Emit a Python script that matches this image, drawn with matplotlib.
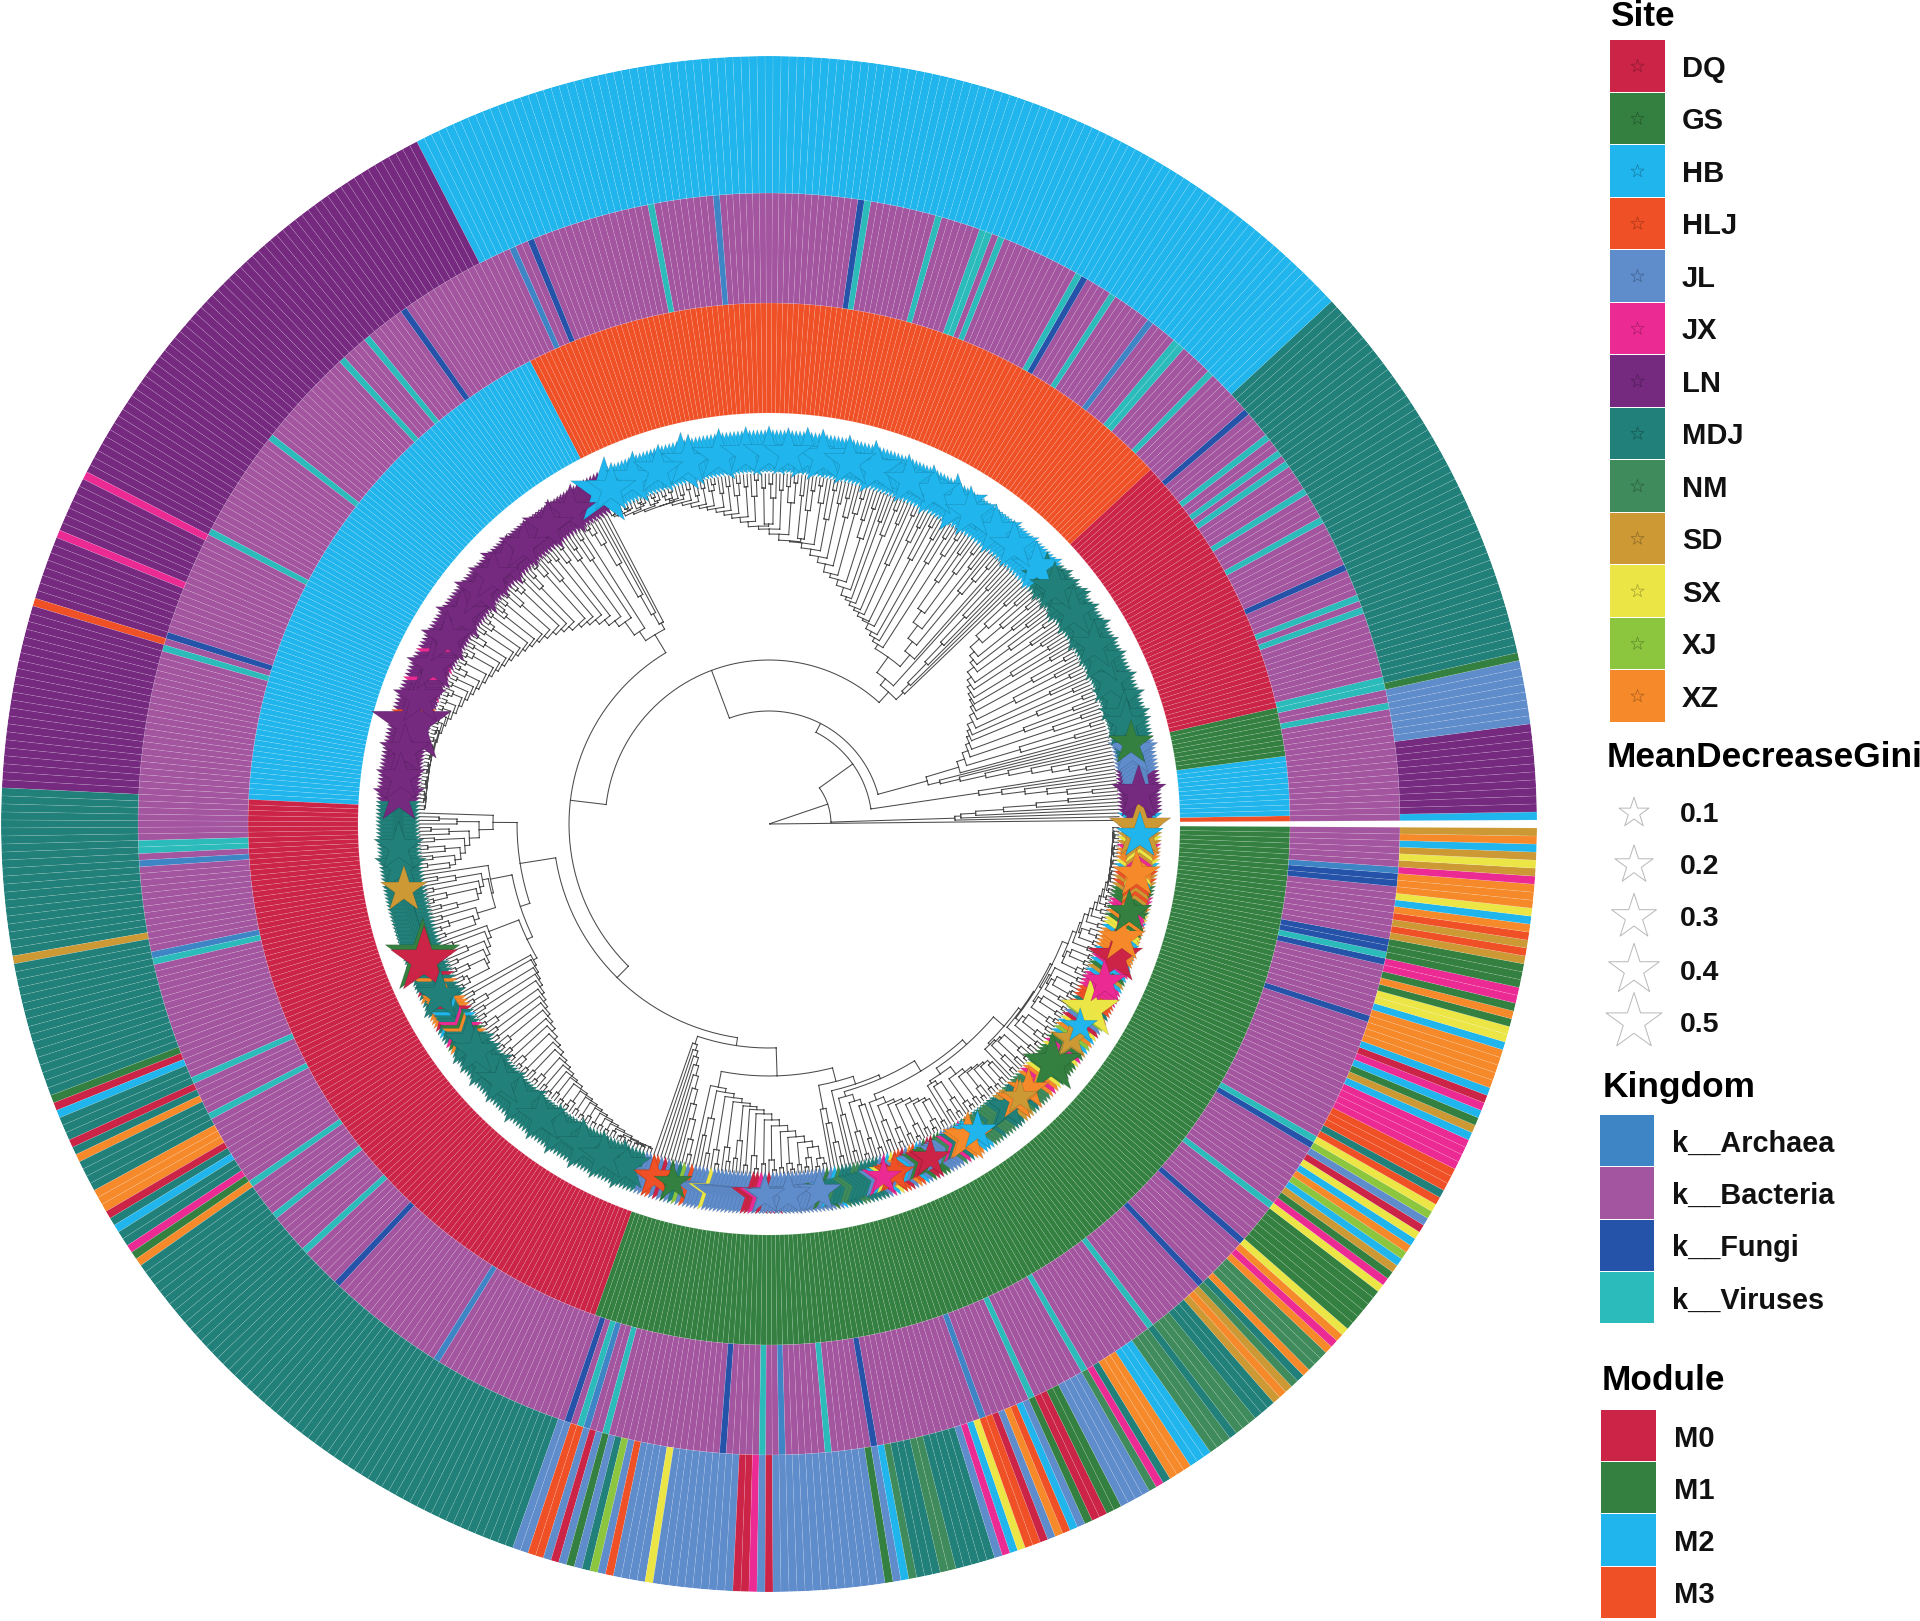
import numpy as np
import matplotlib
matplotlib.use('Agg')
import matplotlib.pyplot as plt
from matplotlib.patches import Rectangle

plt.rcParams['font.family'] = ['Liberation Sans', 'DejaVu Sans']

# legend entries and colours
sites = ['DQ', 'GS', 'HB', 'HLJ', 'JL', 'JX', 'LN', 'MDJ', 'NM', 'SD', 'SX', 'XJ', 'XZ']
site_colors = ['#CB2447', '#348040', '#20B5EC', '#F05026', '#5F8CCB', '#EC2A94', '#752A80',
               '#218079', '#3F8B5C', '#CC9935', '#EBE645', '#8CC63F', '#F68A2B']
kingdoms = ['k__Archaea', 'k__Bacteria', 'k__Fungi', 'k__Viruses']
kingdom_colors = ['#3E85C6', '#A3559F', '#2453A9', '#2BBBBB']
modules = ['M0', 'M1', 'M2', 'M3']
module_colors = ['#CB2447', '#348040', '#20B5EC', '#F05026']
gini_levels = [0.1, 0.2, 0.3, 0.4, 0.5]

# inner ring, runs of leaves counted anticlockwise from 3 o'clock
module_runs = ['M3', 'M2', 'M1', 'M0', 'M3', 'M2', 'M0', 'M1']
module_counts = [1, 11, 9, 50, 124, 100, 122, 182]

# middle ring
kingdom_runs = ('B17 V1 B2 V2 B10 V1 B1 V1 B4 F1 B7 V1 B4 V1 B4 V1 B1 V1 B2 V1 B4 F1 B7 V1 B5 V2 B4 A1 B6 V1 '
                'B4 F1 V1 B12 V1 B1 V2 B6 V1 B10 V1 F1 B21 A1 B9 V1 B18 F1 B2 A1 B18 F1 B6 V1 B4 V1 B15 V1 '
                'B16 V1 B16 F1 B1 V1 B29 V2 B1 A1 B13 A1 V1 B18 V1 B5 V1 B11 V1 B5 V1 B6 V1 B6 F1 B18 A1 '
                'B21 F1 B1 V1 A1 B2 V1 B17 F1 B5 V1 B2 A1 B6 V1 B6 F1 B16 A1 B7 V1 B8 V1 B11 V1 B9 F1 B8 '
                'F1 B6 V1 B10 F1 V1 B19 F1 B8 F1 V1 F2 B8 F2 A1 B6').split()

# outer ring
site_runs = ('HB1 LN11 JL8 GS1 MDJ50 HB124 LN59 JX1 LN7 JX1 LN8 HLJ1 LN23 MDJ21 SD1 MDJ17 GS1 DQ1 HB1 MDJ3 DQ1 '
             'MDJ1 XZ1 MDJ4 XZ3 DQ1 MDJ1 HB1 MDJ2 JX1 GS1 XZ1 MDJ59 JL2 HLJ2 JL1 DQ1 JL1 GS1 JL1 MDJ1 XJ1 JL1 '
             'HLJ1 JL4 SX1 JL10 DQ2 JX1 JL1 DQ1 JL14 GS1 JL1 HB1 NM1 MDJ3 NM2 MDJ5 JL1 JX1 HB1 SX1 HLJ2 DQ1 '
             'JL1 XZ1 HLJ1 HB1 JL1 GS1 DQ2 GS2 JL4 NM1 JX1 MDJ1 XZ3 HB3 NM3 MDJ1 NM3 MDJ3 SD1 XZ1 SD1 NM1 MDJ1 '
             'XZ1 NM3 XZ1 JX1 XZ1 SX1 GS6 SX1 JX1 GS1 SD1 HB1 XJ1 XZ1 HB1 SX1 DQ1 JL1 XJ1 SX1 HLJ1 MDJ1 HLJ3 '
             'JX4 HB1 SD1 GS1 HB1 JX1 DQ1 HB1 XZ5 HB1 SX2 GS1 XZ1 GS1 JX2 GS3 SD1 HLJ1 SD1 HLJ1 XZ1 HB1 SX1 '
             'XZ3 JX1 SD1 SX1 SD1 HB1 XZ1 SD1').split()

# star sizes: most leaves sit near the base value, the bigger ones are listed by leaf
gini_base = 0.3
big_leaf = [193, 172, 98, 72, 121, 203, 273, 7, 18, 20, 62, 596, 598, 586, 576, 569, 564, 557, 549, 544,
            540, 532, 523, 520, 519, 516, 506, 503, 492, 482, 479, 462, 454, 448, 424, 419, 335, 334, 316,
            379, 359, 399, 224, 234, 242, 249, 257, 266, 105, 94, 139, 135, 149, 170, 162, 191, 185,
            68, 61, 52, 37, 32, 27,
            345, 362, 366, 372, 386, 392, 405, 411, 305, 310, 25, 43, 47, 57, 65,
            80, 86, 112, 128, 144, 155, 178, 210, 218, 229, 280, 287, 292]
big_gini = [0.74, 0.58, 0.58, 0.40, 0.48, 0.42, 1.08, 0.48, 0.39, 0.30, 0.42, 0.33, 0.62, 0.35, 0.30, 0.35,
            0.48, 0.30, 0.58, 0.16, 0.20, 0.58, 0.25, 0.17, 0.25, 0.30, 0.22, 0.39, 0.22, 0.22, 0.17, 0.30,
            0.30, 0.22, 0.20, 0.25, 0.74, 0.94, 0.33,
            0.45, 0.42, 0.45, 0.45, 0.45, 0.45, 0.45, 0.45, 0.45, 0.42, 0.42, 0.45, 0.45, 0.42, 0.45, 0.45,
            0.38, 0.45, 0.42, 0.45, 0.45, 0.42, 0.45, 0.42,
            0.42, 0.40, 0.45, 0.40, 0.42, 0.45, 0.40, 0.42, 0.38, 0.42, 0.38, 0.40, 0.38, 0.42, 0.40,
            0.38, 0.42, 0.40, 0.42, 0.38, 0.42, 0.38, 0.42, 0.38, 0.40, 0.42, 0.38, 0.42]

# tree: radius at which each leaf merges with the next one
merge_r = [1,
           186, 192, 207, 235, 268, 300, 62,
           325, 300, 280, 258, 235, 212, 103,
           322, 305, 288, 268, 245, 222, 196, 176, 164,
           198, 318, 262, 336, 206, 300, 330, 212, 272, 325, 216, 338, 290, 219, 332, 222, 310,
           228, 335, 275, 322, 233, 300, 338, 236, 326, 238, 285, 330, 241, 326, 245, 318, 250, 338, 298,
           258, 325, 262, 312, 268, 336, 305, 280, 330, 294, 322, 113]
merge_r += [188, 198, 225, 250, 285, 320, 178,
            186, 220, 336, 318, 300, 232, 325, 248, 338, 312, 262, 330, 295, 205, 340, 320, 210, 335, 305,
            214, 328, 218, 338, 300, 224, 332, 315, 226, 340, 285, 230, 326, 233, 338, 310, 237, 322, 240,
            248, 332, 300, 318, 254, 338, 322, 258, 316, 335, 266, 328, 272, 340, 310, 278, 325, 342,
            283, 336, 316, 287, 330, 284, 342, 322, 338, 290, 334, 295, 326, 340, 300, 336, 298, 344, 328,
            303, 338, 308, 342, 330, 312, 340, 316, 334, 320, 344, 338, 323, 342, 326, 336, 330, 344, 333, 340, 336,
            338, 346, 340, 344, 336, 342, 346, 340, 338, 344, 346, 342, 340, 344, 346, 343, 345, 344, 346, 164]
merge_r += [228, 240, 262, 300, 325, 338, 345, 221,
            232, 340, 318, 248, 336, 325, 255, 344, 330, 262, 338, 268, 342, 320, 272, 334, 346, 276, 340, 328,
            281, 345, 285, 338, 344, 289, 330, 346, 293, 342, 296, 340, 335, 299, 346, 302, 344, 338, 305, 342,
            308, 346, 336, 311, 344, 314, 340, 346, 317, 343, 320, 346, 338, 323, 344, 326, 346, 329, 342, 346,
            332, 345, 335, 346, 338, 344, 340, 346, 342, 345, 346, 343, 346, 344, 346, 345,
            345, 346, 344, 346, 345, 346, 344, 345, 346, 345, 344, 346, 345, 346, 344, 345, 200]
merge_r += [276, 330, 312, 290, 338, 320, 300, 335, 305, 342, 325, 310, 338, 316, 344, 322, 252,
            284, 336, 318, 292, 342, 296, 330, 344, 300, 338, 322, 286, 340, 305, 335, 344, 310, 342, 262,
            300, 338, 304, 344, 326, 308, 340, 312, 345, 332, 315, 342, 338, 346, 268,
            272, 340, 274, 344, 330, 276, 338, 278, 342, 281, 346, 334, 284, 340, 287, 344, 290, 336, 346,
            293, 342, 296, 345, 300, 338, 346, 304, 344, 307, 341, 311, 346, 338, 314, 344, 317, 346, 320, 342,
            322, 345, 325, 346, 340, 327, 344, 329, 346, 331, 343, 333, 346, 335, 345, 337, 346, 339, 344,
            341, 346, 345, 343, 346, 344, 346, 345, 346, 344, 345, 216]
merge_r += [232, 238, 244, 252, 262, 275, 290, 305, 325, 340, 224,
            268, 318, 300, 335, 272, 330, 344, 276, 326, 340, 280, 336, 318, 283, 342, 286, 332, 345, 290, 340,
            296, 336, 346, 302, 344, 308, 340, 346, 314, 342, 320, 345, 336, 326, 346, 338, 344, 252]
merge_r += [290, 305, 325, 340, 266,
            274, 300, 338, 283, 320, 344, 290, 330, 296, 342, 278,
            296, 338, 318, 302, 344, 330, 305, 340, 308, 346, 334, 312, 342, 315, 346, 338, 318, 344, 290,
            306, 338, 310, 344, 330, 303, 340, 346, 312, 342, 316, 346, 336, 318, 344, 320, 346, 322, 344, 326, 296,
            312, 344, 330, 314, 340, 316, 346, 336, 310, 342, 313, 345, 318, 338, 346, 322, 344, 314, 340, 346,
            320, 343, 324, 346, 318, 338, 322, 344, 346, 326, 342, 320, 345, 316, 340, 346, 324, 344, 328, 346,
            322, 342, 326, 345, 330, 346, 338, 328, 344, 332, 346, 335, 343, 338, 346, 340, 345, 342, 346, 344,
            344, 346, 345, 346, 344, 345, 346, 344, 346, 345, 346, 344, 345, 346, 345, 344]


def expand(runs):
    out = []
    for r in runs:
        name = r.rstrip('0123456789')
        out += [name] * int(r[len(name):])
    return out


leaf_module = []
for m, c in zip(module_runs, module_counts):
    leaf_module += [m] * c
leaf_kingdom = expand(kingdom_runs)
leaf_site = expand(site_runs)
n_leaf = len(leaf_site)
assert len(leaf_kingdom) == n_leaf and len(leaf_module) == n_leaf, (n_leaf, len(leaf_kingdom), len(leaf_module))
assert len(merge_r) == n_leaf - 1, (n_leaf, len(merge_r))
assert len(big_leaf) == len(big_gini), (len(big_leaf), len(big_gini))

module_col = dict(zip(modules, module_colors))
kingdom_col = dict(zip(['A', 'B', 'F', 'V'], kingdom_colors))
site_col = dict(zip(sites, site_colors))

pitch = np.deg2rad(0.6)
start = np.deg2rad(0.3)
theta = start + pitch * (np.arange(n_leaf) + 0.5)

cx, cy, rmax = 769, 824, 768
W, H = 1920, 1621

fig = plt.figure(figsize=(W / 100, H / 100), dpi=100)
ax = fig.add_axes([(cx - rmax) / W, (H - cy - rmax) / H, 2 * rmax / W, 2 * rmax / H], projection='polar')
ax.set_ylim(0, rmax)
ax.axis('off')

seam = (1, 1, 1, 0.18)
ax.bar(theta, 521 - 411, width=pitch, bottom=411, color=[module_col[m] for m in leaf_module],
       edgecolor=seam, linewidth=0.4)
ax.bar(theta, 631 - 521, width=pitch, bottom=521, color=[kingdom_col[k] for k in leaf_kingdom],
       edgecolor=seam, linewidth=0.4)
ax.bar(theta, rmax - 631, width=pitch, bottom=631, color=[site_col[s] for s in leaf_site],
       edgecolor=seam, linewidth=0.4)

# dendrogram from the merge radii
tip_r = 350
tree_t, tree_r = [], []


def add_arc(r, t0, t1):
    tt = np.linspace(t0, t1, max(2, int(abs(t1 - t0) / 0.02) + 2))
    tree_t.extend(tt)
    tree_r.extend([r] * len(tt))
    tree_t.append(np.nan)
    tree_r.append(np.nan)


def add_radial(t, r0, r1):
    tree_t.extend([t, t, np.nan])
    tree_r.extend([r0, r1, np.nan])


def build(a, b):
    # returns stem angle and node radius of leaves a..b
    if a == b:
        return theta[a], tip_r
    k = a + int(np.argmin(merge_r[a:b]))
    r = merge_r[k]
    t0, r0 = build(a, k)
    t1, r1 = build(k + 1, b)
    add_radial(t0, r, r0)
    add_radial(t1, r, r1)
    add_arc(r, t0, t1)
    return (t0 + t1) / 2, r


build(0, n_leaf - 1)
ax.plot(tree_t, tree_r, color='#4a4a4a', lw=0.75, zorder=3)


def star_area(v):
    # legend stars: 0.1 is 30 px wide, 0.5 is 56 px wide
    return (340 + 5600 * np.asarray(v)) * 0.5733


star_r = 371
ax.scatter(theta, [star_r] * n_leaf, s=star_area([gini_base] * n_leaf), marker='*',
           c=[site_col[s] for s in leaf_site], edgecolors=(0, 0, 0, 0.12), linewidths=0.4, zorder=4)
order = np.argsort(big_gini)[::-1]
big_i = np.array(big_leaf)[order]
ax.scatter(theta[big_i], [star_r] * len(big_i), s=star_area(np.array(big_gini)[order]), marker='*',
           c=[site_col[leaf_site[i]] for i in big_i], edgecolors=(0, 0, 0, 0.2), linewidths=0.4, zorder=5)
ax.set_ylim(0, rmax)

# legends, in pixel coordinates
lg = fig.add_axes([0, 0, 1, 1])
lg.set_xlim(0, W)
lg.set_ylim(H, 0)
lg.axis('off')


def swatches(names, colors, x0, x1, y0, row, tx, size):
    for i, (nm, c) in enumerate(zip(names, colors)):
        lg.add_patch(Rectangle((x0, y0 + i * row), x1 - x0, row - 1, facecolor=c, edgecolor='none'))
        lg.text(tx, y0 + (i + 0.5) * row + 2.5, nm, fontsize=size, fontweight='bold', va='center', ha='left',
                color='#111111')


lg.text(1610, 16.5, 'Site', fontsize=25.4, fontweight='bold', va='center')
swatches(sites, site_colors, 1610, 1665, 40, 52.5, 1682, 21)
lg.scatter([1637.5] * len(sites), 40 + 52.5 * (np.arange(len(sites)) + 0.5), s=13 ** 2 * 0.5733, marker='*',
           c=site_colors, edgecolors=(0, 0, 0, 0.3), linewidths=0.5)

lg.text(1607, 757.5, 'MeanDecreaseGini', fontsize=25.4, fontweight='bold', va='center')
star_y = [813, 865, 917, 970, 1022]
lg.scatter([1634] * 5, star_y, s=star_area(gini_levels), marker='*', facecolors='white',
           edgecolors='#b8b8b8', linewidths=0.7)
for y, v in zip(star_y, gini_levels):
    lg.text(1680, y + 2.5, str(v), fontsize=20.5, fontweight='bold', va='center', color='#111111')

lg.text(1603, 1087.5, 'Kingdom', fontsize=25.4, fontweight='bold', va='center')
swatches(kingdoms, kingdom_colors, 1600, 1654, 1115, 52.3, 1672, 20.8)

lg.text(1602, 1381, 'Module', fontsize=25.4, fontweight='bold', va='center')
swatches(modules, module_colors, 1601, 1656, 1410, 52.2, 1674, 21)

lg.set_xlim(0, W)
lg.set_ylim(H, 0)

fig.savefig('out.png', dpi=100)
